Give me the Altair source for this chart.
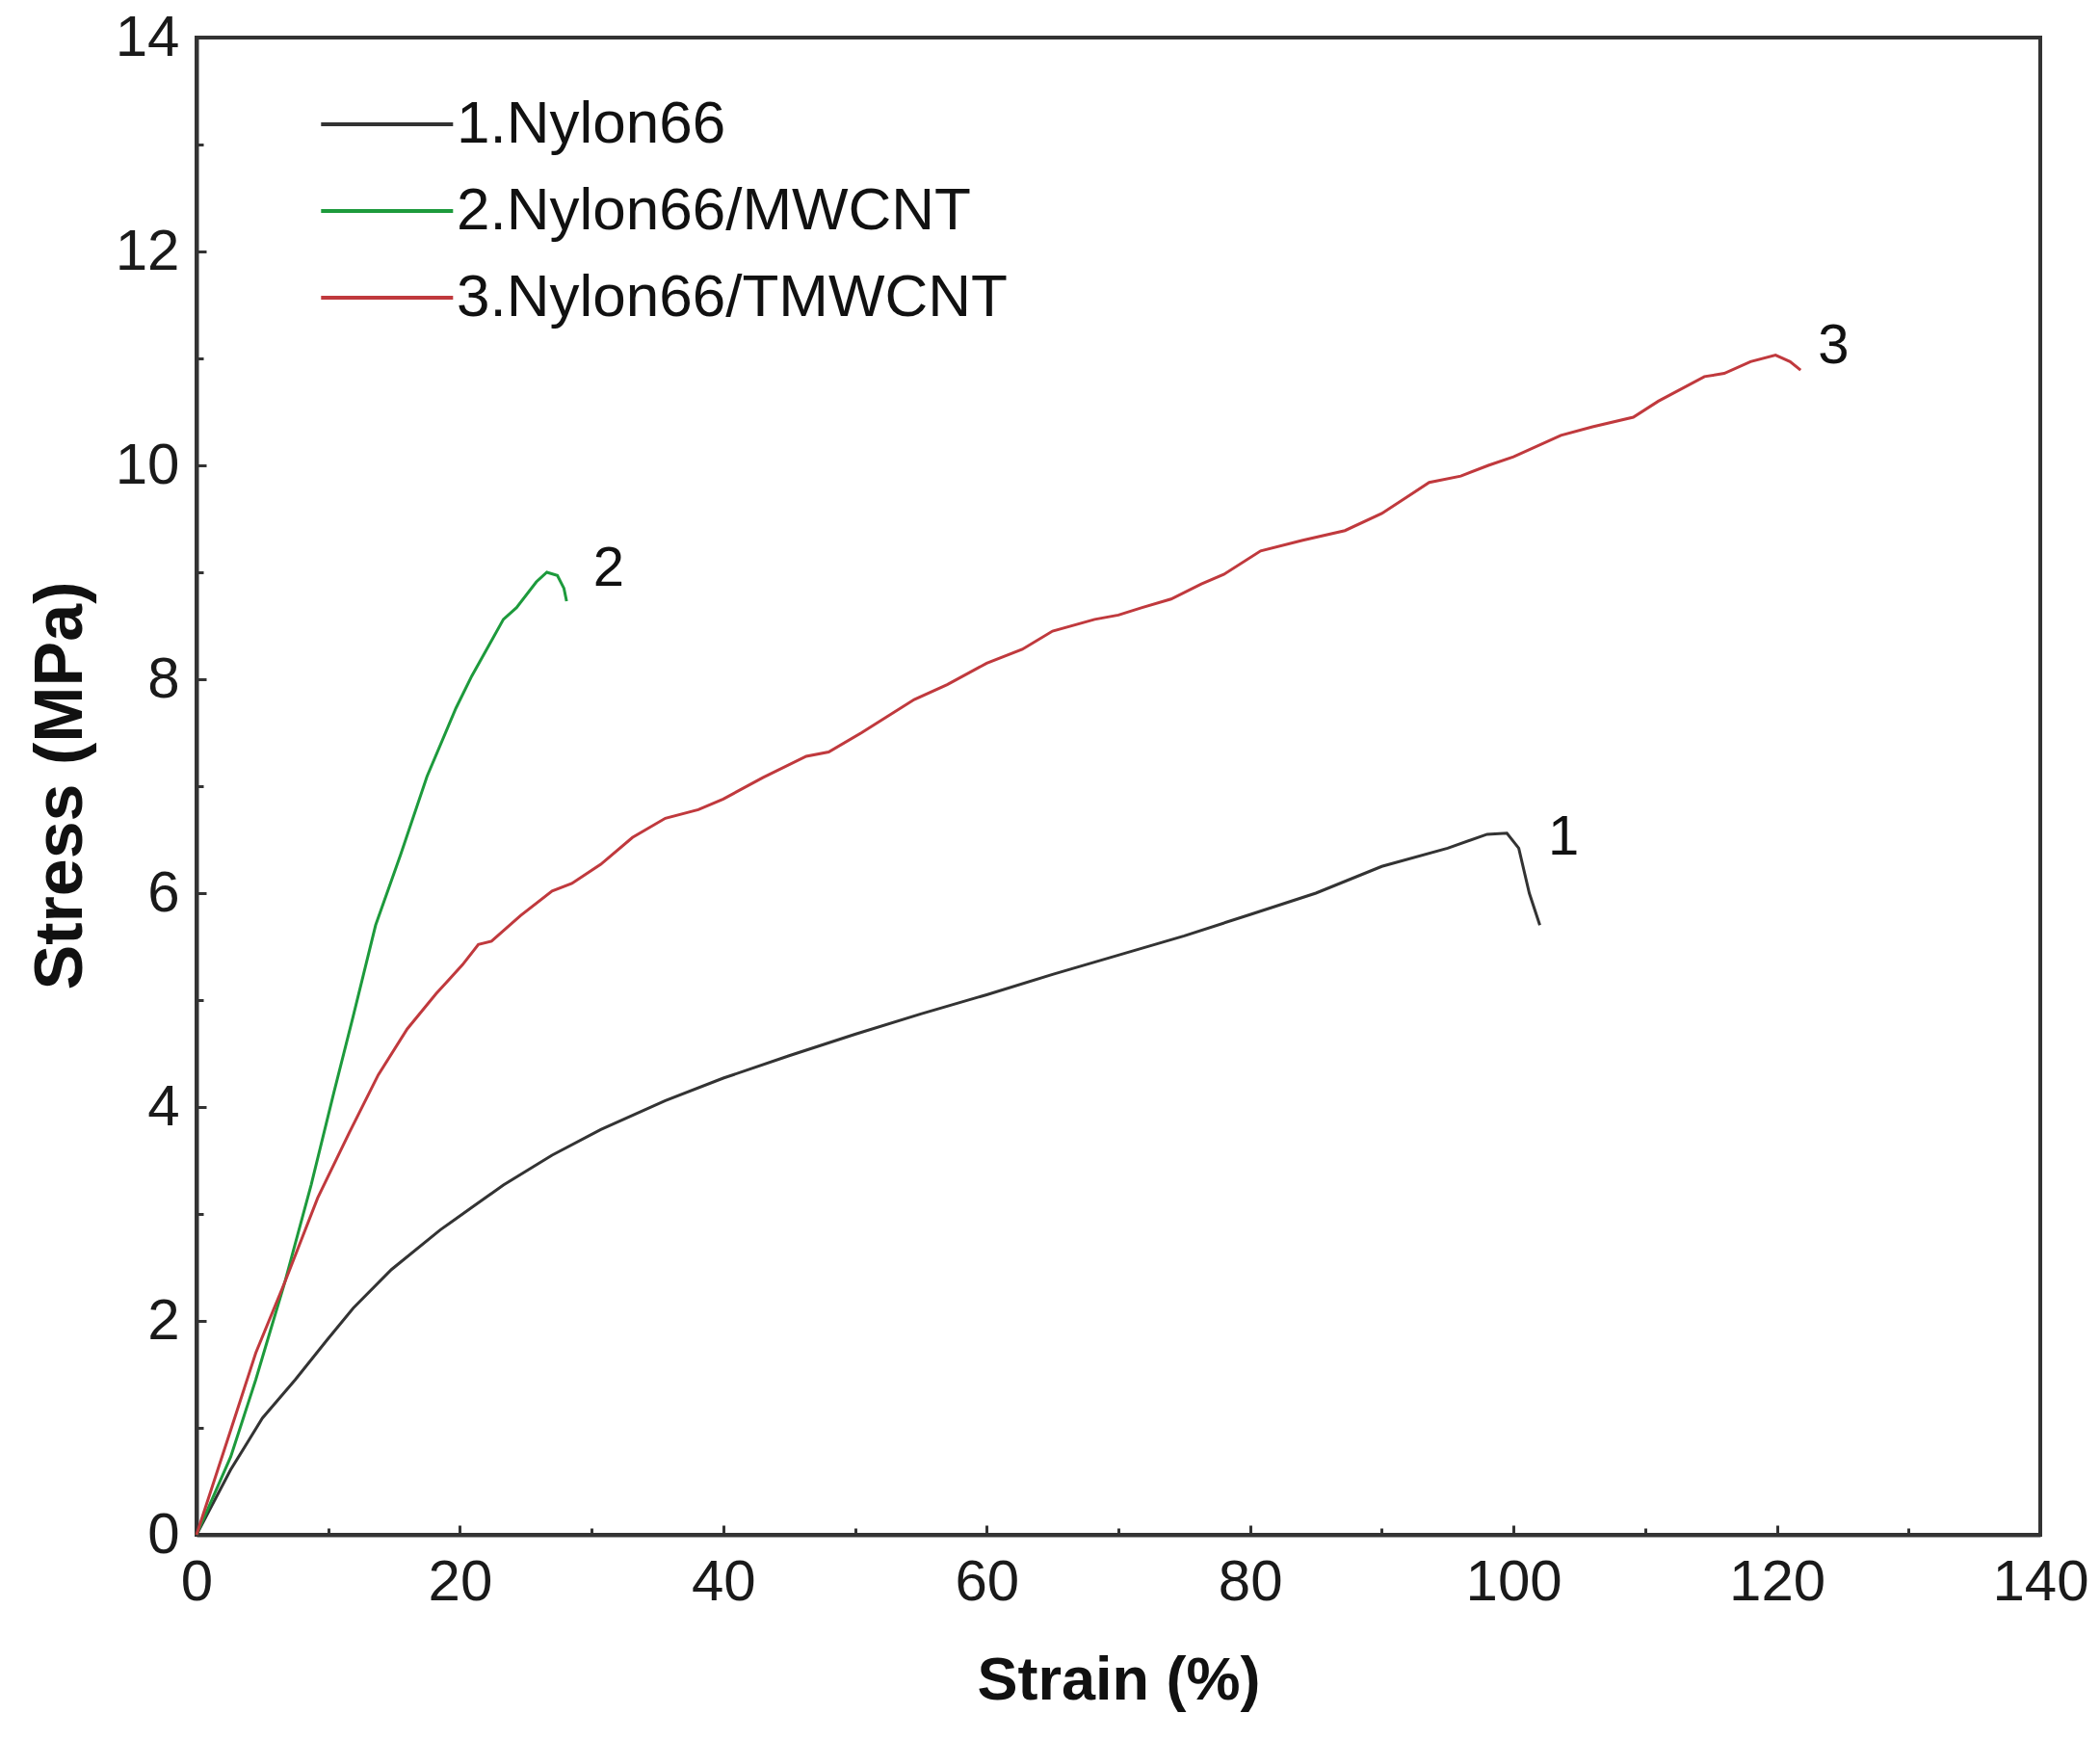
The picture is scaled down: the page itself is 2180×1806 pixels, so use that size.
import altair as alt
import pandas as pd

# ---------------- data ----------------
series_names = ["1.Nylon66", "2.Nylon66/MWCNT", "3.Nylon66/TMWCNT"]
series_colors = ["#333333", "#1d9a3c", "#c0393d"]

nylon_x = [0, 2.6, 5, 7.5, 9.9, 11.9, 14.8, 18.5, 20.9, 23.3, 27, 30.7, 35.6, 40, 45,
           50, 55, 60, 65, 70, 75, 80, 85, 90, 95, 98, 99.5, 100.4, 101.2, 102.0]
nylon_y = [0, 0.61, 1.09, 1.45, 1.82, 2.12, 2.48, 2.85, 3.06, 3.27, 3.55, 3.79, 4.06, 4.27, 4.48,
           4.68, 4.87, 5.05, 5.24, 5.42, 5.6, 5.8, 6.0, 6.25, 6.42, 6.55, 6.56, 6.42, 6.0, 5.7]

mw_x = [0, 2.6, 4.5, 6.7, 8.7, 10.4, 11.9, 13.6, 15.5, 17.5, 19.7, 20.9, 22.4, 23.3, 24.3,
        25.8, 26.6, 27.4, 27.9, 28.1]
mw_y = [0, 0.73, 1.45, 2.36, 3.27, 4.12, 4.85, 5.7, 6.36, 7.09, 7.73, 8.03, 8.36, 8.56, 8.67,
        8.91, 9.0, 8.97, 8.85, 8.73]

tmw_x = [0, 2.6, 4.5, 6.7, 9.2, 11.6, 13.8, 16.0, 18.2, 20.2, 21.4, 22.4, 24.6, 27.0, 28.5,
         30.7, 33.1, 35.6, 38.1, 40, 43, 46.3, 48, 50.5, 54.5, 57, 60, 62.7, 65, 68.2, 70,
         71.8, 74, 76.3, 78, 80.8, 84, 87.2, 90, 93.6, 96, 98.1, 100, 103.6, 106, 109.1,
         111, 114.5, 116, 118, 119.9, 121, 121.8]
tmw_y = [0, 0.98, 1.7, 2.36, 3.15, 3.76, 4.3, 4.73, 5.06, 5.33, 5.52, 5.55, 5.79, 6.02, 6.09,
         6.27, 6.52, 6.7, 6.78, 6.88, 7.08, 7.28, 7.32, 7.5, 7.81, 7.95, 8.15, 8.28, 8.45, 8.56, 8.6,
         8.67, 8.75, 8.89, 8.98, 9.2, 9.3, 9.39, 9.55, 9.84, 9.9, 10.0, 10.08, 10.28, 10.36, 10.45,
         10.6, 10.83, 10.86, 10.97, 11.03, 10.97, 10.89]

curve_labels = ["1", "2", "3"]
curve_label_x = [103.8, 31.3, 124.3]
curve_label_y = [6.51, 9.03, 11.11]

x_major = [0, 20, 40, 60, 80, 100, 120, 140]
x_minor = [10, 30, 50, 70, 90, 110, 130]
y_major = [0, 2, 4, 6, 8, 10, 12, 14]
y_minor = [1, 3, 5, 7, 9, 11, 13]

# ---------------- tables ----------------
rows = []
for name, xs, ys in zip(series_names, [nylon_x, mw_x, tmw_x], [nylon_y, mw_y, tmw_y]):
    for i, (a, b) in enumerate(zip(xs, ys)):
        rows.append({"series": name, "strain": a, "stress": b, "idx": i})
df = pd.DataFrame(rows)
lab_df = pd.DataFrame({"t": curve_labels, "strain": curve_label_x, "stress": curve_label_y})

FONT = "Liberation Sans"
AX = "#333333"
xscale = alt.Scale(domain=[0, 140], nice=False, zero=False)
yscale = alt.Scale(domain=[0, 14], nice=False, zero=False)

main_x_axis = alt.Axis(
    orient="bottom", values=x_major, ticks=False, grid=False, domain=True,
    domainColor=AX, domainWidth=4, labelFont=FONT, labelFontSize=60, labelColor="#1a1a1a",
    labelPadding=20, labelFlush=False, labelOverlap=False, format="d",
    titleFont=FONT, titleFontSize=63, titleFontWeight="bold", titleColor="#111111",
    titleY=170, titleBaseline="alphabetic",
)
main_y_axis = alt.Axis(
    orient="left", values=y_major, ticks=False, grid=False, domain=True,
    domainColor=AX, domainWidth=4, labelFont=FONT, labelFontSize=60, labelColor="#1a1a1a",
    labelPadding=18, labelFlush=False, labelOverlap=False, format="d",
    titleFont=FONT, titleFontSize=70, titleFontWeight="bold", titleColor="#111111",
    titleX=-120, titleY=776, titleBaseline="alphabetic",
)


def tick_axis(orient, values, size):
    return alt.Axis(orient=orient, values=values, tickSize=size, offset=-size, tickWidth=3,
                    tickColor=AX, domain=False, labels=False, grid=False)


lines = alt.Chart(df).mark_line(strokeWidth=3).encode(
    x=alt.X("strain:Q", scale=xscale, axis=main_x_axis, title="Strain (%)"),
    y=alt.Y("stress:Q", scale=yscale, axis=main_y_axis, title="Stress (MPa)"),
    color=alt.Color(
        "series:N",
        scale=alt.Scale(domain=series_names, range=series_colors),
        legend=alt.Legend(
            orient="none", legendX=112, legendY=59, title=None, padding=0,
            symbolType="M-1,0H9", symbolSize=751, symbolStrokeWidth=4,
            labelFont=FONT, labelFontSize=62, labelColor="#111111", labelOffset=96,
            rowPadding=28, labelLimit=1000,
        ),
    ),
    detail="series:N",
    order="idx:Q",
)

texts = alt.Chart(lab_df).mark_text(font=FONT, fontSize=58, color="#111111",
                                    align="center", baseline="middle").encode(
    x=alt.X("strain:Q", scale=xscale, axis=None),
    y=alt.Y("stress:Q", scale=yscale, axis=None),
    text="t:N",
)

major_ticks = alt.Chart(df).mark_point(opacity=0).encode(
    x=alt.X("strain:Q", scale=xscale, axis=tick_axis("bottom", x_major, 10), title=None),
    y=alt.Y("stress:Q", scale=yscale, axis=tick_axis("left", y_major, 10), title=None),
)
minor_ticks = alt.Chart(df).mark_point(opacity=0).encode(
    x=alt.X("strain:Q", scale=xscale, axis=tick_axis("bottom", x_minor, 7), title=None),
    y=alt.Y("stress:Q", scale=yscale, axis=tick_axis("left", y_minor, 7), title=None),
)

chart = (
    alt.layer(lines, texts, major_ticks, minor_ticks)
    .resolve_axis(x="independent", y="independent")
    .properties(
        width=1914, height=1554,
        autosize=alt.AutoSizeParams(type="none"),
        padding={"left": 196, "top": 31, "right": 54, "bottom": 205},
        background="white",
    )
    .configure_view(stroke=AX, strokeWidth=4)
)

chart.save("out.html", embed_options={"renderer": "svg", "actions": False})
